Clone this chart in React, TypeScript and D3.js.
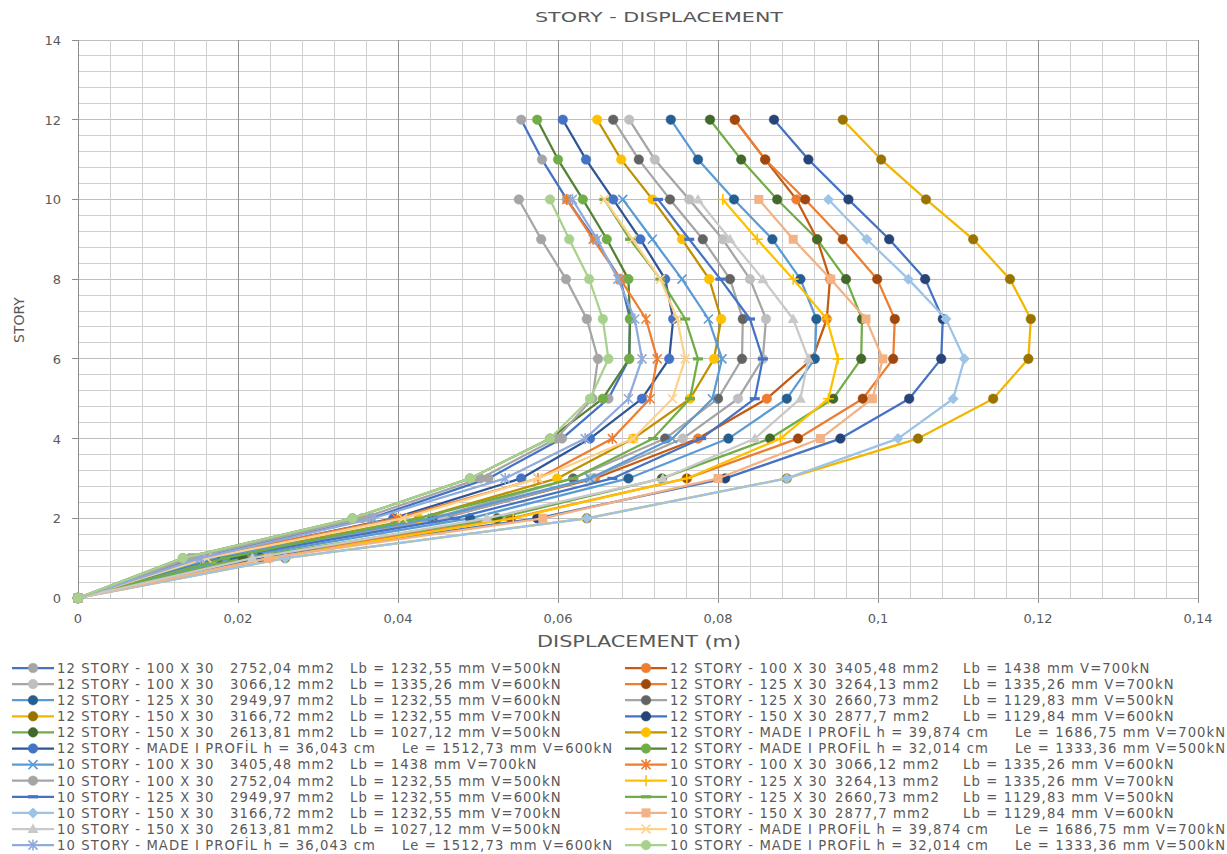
import React from 'react';
import * as d3 from 'd3';

// ---------- DATA ----------
const stories12 = [0, 1, 2, 3, 4, 5, 6, 7, 8, 9, 10, 11, 12];
const stories10 = [0, 1, 2, 3, 4, 5, 6, 7, 8, 9, 10];

const xTicks = [0, 0.02, 0.04, 0.06, 0.08, 0.1, 0.12, 0.14];
const yTicks = [0, 2, 4, 6, 8, 10, 12, 14];

// 12 story series (story 0..12)
const s12_100_2752_500 = [0, 0.0145, 0.0366, 0.0513, 0.0605, 0.0663, 0.0689, 0.0690, 0.0678, 0.0646, 0.0611, 0.0580, 0.0554];
const s12_100_3405_700 = [0, 0.0184, 0.0453, 0.0646, 0.0775, 0.0861, 0.0918, 0.0936, 0.0940, 0.0924, 0.0898, 0.0859, 0.0821];
const s12_100_3066_600 = [0, 0.0180, 0.0456, 0.0641, 0.0756, 0.0825, 0.0856, 0.0860, 0.0840, 0.0806, 0.0764, 0.0721, 0.0689];
const s12_125_3264_700 = [0, 0.0215, 0.0541, 0.0761, 0.0900, 0.0981, 0.1019, 0.1021, 0.0999, 0.0956, 0.0909, 0.0859, 0.0821];
const s12_125_2949_600 = [0, 0.0194, 0.0490, 0.0688, 0.0813, 0.0886, 0.0921, 0.0923, 0.0903, 0.0868, 0.0820, 0.0775, 0.0741];
const s12_125_2660_500 = [0, 0.0175, 0.0443, 0.0619, 0.0734, 0.0800, 0.0830, 0.0831, 0.0815, 0.0781, 0.0740, 0.0701, 0.0669];
const s12_150_3166_700 = [0, 0.0259, 0.0636, 0.0886, 0.1050, 0.1144, 0.1188, 0.1191, 0.1165, 0.1119, 0.1060, 0.1004, 0.0956];
const s12_150_2877_600 = [0, 0.0228, 0.0574, 0.0809, 0.0953, 0.1039, 0.1079, 0.1081, 0.1059, 0.1014, 0.0963, 0.0913, 0.0870];
const s12_150_2613_500 = [0, 0.0206, 0.0524, 0.0730, 0.0865, 0.0944, 0.0979, 0.0980, 0.0960, 0.0924, 0.0874, 0.0829, 0.0790];
const s12_made_39_700 = [0, 0.0169, 0.0426, 0.0599, 0.0694, 0.0765, 0.0795, 0.0804, 0.0789, 0.0755, 0.0718, 0.0679, 0.0649];
const s12_made_36_600 = [0, 0.0156, 0.0394, 0.0554, 0.0640, 0.0705, 0.0739, 0.0744, 0.0734, 0.0703, 0.0669, 0.0635, 0.0606];
const s12_made_32_500 = [0, 0.0131, 0.0343, 0.0490, 0.0590, 0.0656, 0.0689, 0.0690, 0.0688, 0.0661, 0.0631, 0.0600, 0.0574];

// 10 story series (story 0..10)
const s10_100_3405_700 = [0, 0.0169, 0.0443, 0.0640, 0.0743, 0.0793, 0.0805, 0.0788, 0.0755, 0.0718, 0.0681];
const s10_100_3066_600 = [0, 0.0153, 0.0398, 0.0575, 0.0668, 0.0715, 0.0724, 0.0710, 0.0678, 0.0644, 0.0611];
const s10_100_2752_500 = [0, 0.0140, 0.0355, 0.0503, 0.0598, 0.0643, 0.0650, 0.0636, 0.0610, 0.0579, 0.0551];
const s10_125_3264_700 = [0, 0.0240, 0.0544, 0.0761, 0.0878, 0.0938, 0.0950, 0.0936, 0.0894, 0.0849, 0.0806];
const s10_125_2949_600 = [0, 0.0180, 0.0471, 0.0668, 0.0779, 0.0846, 0.0856, 0.0840, 0.0803, 0.0764, 0.0725];
const s10_125_2660_500 = [0, 0.0184, 0.0426, 0.0619, 0.0719, 0.0765, 0.0775, 0.0759, 0.0728, 0.0690, 0.0658];
const s10_150_3166_700 = [0, 0.0259, 0.0636, 0.0886, 0.1025, 0.1094, 0.1108, 0.1085, 0.1038, 0.0986, 0.0938];
const s10_150_2877_600 = [0, 0.0238, 0.0581, 0.0800, 0.0928, 0.0993, 0.1006, 0.0985, 0.0941, 0.0894, 0.0851];
const s10_150_2613_500 = [0, 0.0218, 0.0511, 0.0731, 0.0846, 0.0903, 0.0913, 0.0894, 0.0856, 0.0815, 0.0775];
const s10_made_39_700 = [0, 0.0161, 0.0406, 0.0575, 0.0694, 0.0743, 0.0759, 0.0749, 0.0728, 0.0693, 0.0658];
const s10_made_36_600 = [0, 0.0153, 0.0369, 0.0534, 0.0634, 0.0688, 0.0705, 0.0696, 0.0675, 0.0649, 0.0618];
const s10_made_32_500 = [0, 0.0131, 0.0343, 0.0490, 0.0590, 0.0640, 0.0663, 0.0656, 0.0639, 0.0614, 0.0590];

const seriesLabels = [
  '12 STORY - 100 X 30|2752,04 mm2|Lb = 1232,55 mm V=500kN',
  '12 STORY - 100 X 30|3405,48 mm2|Lb = 1438 mm V=700kN',
  '12 STORY - 100 X 30|3066,12 mm2|Lb = 1335,26 mm V=600kN',
  '12 STORY - 125 X 30|3264,13 mm2|Lb = 1335,26 mm V=700kN',
  '12 STORY - 125 X 30|2949,97 mm2|Lb = 1232,55 mm V=600kN',
  '12 STORY - 125 X 30|2660,73 mm2|Lb = 1129,83 mm V=500kN',
  '12 STORY - 150 X 30|3166,72 mm2|Lb = 1232,55 mm V=700kN',
  '12 STORY - 150 X 30|2877,7 mm2|Lb = 1129,84 mm V=600kN',
  '12 STORY - 150 X 30|2613,81 mm2|Lb = 1027,12 mm V=500kN',
  '12 STORY - MADE I PROFİL h = 39,874 cm|Le = 1686,75 mm V=700kN',
  '12 STORY - MADE I PROFİL h = 36,043 cm|Le = 1512,73 mm V=600kN',
  '12 STORY - MADE I PROFİL h = 32,014 cm|Le = 1333,36 mm V=500kN',
  '10 STORY - 100 X 30|3405,48 mm2|Lb = 1438 mm V=700kN',
  '10 STORY - 100 X 30|3066,12 mm2|Lb = 1335,26 mm V=600kN',
  '10 STORY - 100 X 30|2752,04 mm2|Lb = 1232,55 mm V=500kN',
  '10 STORY - 125 X 30|3264,13 mm2|Lb = 1335,26 mm V=700kN',
  '10 STORY - 125 X 30|2949,97 mm2|Lb = 1232,55 mm V=600kN',
  '10 STORY - 125 X 30|2660,73 mm2|Lb = 1129,83 mm V=500kN',
  '10 STORY - 150 X 30|3166,72 mm2|Lb = 1232,55 mm V=700kN',
  '10 STORY - 150 X 30|2877,7 mm2|Lb = 1129,84 mm V=600kN',
  '10 STORY - 150 X 30|2613,81 mm2|Lb = 1027,12 mm V=500kN',
  '10 STORY - MADE I PROFİL h = 39,874 cm|Le = 1686,75 mm V=700kN',
  '10 STORY - MADE I PROFİL h = 36,043 cm|Le = 1512,73 mm V=600kN',
  '10 STORY - MADE I PROFİL h = 32,014 cm|Le = 1333,36 mm V=500kN',
];

const seriesValues = [
  s12_100_2752_500, s12_100_3405_700, s12_100_3066_600, s12_125_3264_700,
  s12_125_2949_600, s12_125_2660_500, s12_150_3166_700, s12_150_2877_600,
  s12_150_2613_500, s12_made_39_700, s12_made_36_600, s12_made_32_500,
  s10_100_3405_700, s10_100_3066_600, s10_100_2752_500, s10_125_3264_700,
  s10_125_2949_600, s10_125_2660_500, s10_150_3166_700, s10_150_2877_600,
  s10_150_2613_500, s10_made_39_700, s10_made_36_600, s10_made_32_500,
];

// ---------- STYLES ----------
const lineColors = [
  '#4472C4', '#C55A11', '#A5A5A5', '#ED7D31', '#5B9BD5', '#A5A5A5',
  '#F2B600', '#4472C4', '#70AD47', '#BF9000', '#2F5597', '#548235',
  '#5B9BD5', '#ED7D31', '#A5A5A5', '#FFC000', '#4472C4', '#70AD47',
  '#9DC3E6', '#F4B183', '#C9C9C9', '#FFD08A', '#8FAADC', '#A9D18E',
];
const markerColors = [
  '#A5A5A5', '#ED7D31', '#BFBFBF', '#9E480E', '#255E91', '#636363',
  '#997300', '#264478', '#43682B', '#FFC000', '#4472C4', '#70AD47',
  '#5B9BD5', '#ED7D31', '#A5A5A5', '#FFC000', '#4472C4', '#70AD47',
  '#9DC3E6', '#F4B183', '#C9C9C9', '#FFD08A', '#8FAADC', '#A9D18E',
];
const markerTypes = [
  'circle', 'circle', 'circle', 'circle', 'circle', 'circle',
  'circle', 'circle', 'circle', 'circle', 'circle', 'circle',
  'x', 'star', 'circle', 'plus', 'dash', 'dash',
  'diamond', 'square', 'triangle', 'x', 'star', 'circle',
];

const W = 1227;
const H = 854;
const PX0 = 78, PX1 = 1198, PY0 = 598, PY1 = 40;
const FONT = 'DejaVu Sans, Verdana, sans-serif';

function Marker({ type, cx, cy, color }: { type: string; cx: number; cy: number; color: string }) {
  const s = 4.5;
  switch (type) {
    case 'circle':
      return <circle cx={cx} cy={cy} r={4.8} fill={color} stroke={color} strokeWidth={0.5} />;
    case 'x':
      return (
        <path d={`M${cx - s},${cy - s}L${cx + s},${cy + s}M${cx - s},${cy + s}L${cx + s},${cy - s}`}
          stroke={color} strokeWidth={1.6} fill="none" />
      );
    case 'star':
      return (
        <path d={`M${cx - s},${cy - s}L${cx + s},${cy + s}M${cx - s},${cy + s}L${cx + s},${cy - s}M${cx},${cy - s - 1}L${cx},${cy + s + 1}`}
          stroke={color} strokeWidth={1.6} fill="none" />
      );
    case 'plus':
      return (
        <path d={`M${cx - s - 1},${cy}L${cx + s + 1},${cy}M${cx},${cy - s - 1}L${cx},${cy + s + 1}`}
          stroke={color} strokeWidth={1.6} fill="none" />
      );
    case 'dash':
      return <rect x={cx - 5} y={cy - 1.6} width={10} height={3.2} fill={color} />;
    case 'diamond':
      return <path d={`M${cx},${cy - 5.5}L${cx + 5.5},${cy}L${cx},${cy + 5.5}L${cx - 5.5},${cy}Z`} fill={color} />;
    case 'square':
      return <rect x={cx - 4.5} y={cy - 4.5} width={9} height={9} fill={color} />;
    case 'triangle':
      return <path d={`M${cx},${cy - 5.5}L${cx + 5.5},${cy + 4}L${cx - 5.5},${cy + 4}Z`} fill={color} />;
    default:
      return null;
  }
}

export default function App() {
  const x = d3.scaleLinear().domain([0, 0.14]).range([PX0, PX1]);
  const y = d3.scaleLinear().domain([0, 14]).range([PY0, PY1]);
  const line = d3.line<[number, number]>().x((d) => x(d[0])).y((d) => y(d[1]));

  const minorX = d3.range(0, 0.14 + 1e-9, 0.004);
  const minorY = d3.range(0, 14 + 1e-9, 0.4);
  const fmt = (v: number) => (v === 0 ? '0' : String(+v.toFixed(2)).replace('.', ','));

  const series = seriesValues.map((vals, i) => {
    const st = i < 12 ? stories12 : stories10;
    const pts: [number, number][] = vals.map((v, k) => [v, st[k]]);
    return { pts, i };
  });

  const legendRowY = (r: number) => 668 + r * 16.1;

  return (
    <svg width={W} height={H} style={{ position: 'fixed', left: 0, top: 0, background: '#fff' }}
      fontFamily={FONT}>
      <rect x={0} y={0} width={W} height={H} fill="#fff" />
      {/* grid */}
      <g shapeRendering="crispEdges">
        {minorY.map((v, k) => (
          <line key={'hy' + k} x1={PX0} x2={PX1} y1={y(v)} y2={y(v)} stroke="#CFCFCF" strokeWidth={1} />
        ))}
        {yTicks.map((v) => (
          <line key={'hyM' + v} x1={PX0} x2={PX1} y1={y(v)} y2={y(v)} stroke="#BDBDBD" strokeWidth={1} />
        ))}
        {minorX.map((v, k) => (
          <line key={'vx' + k} x1={x(v)} x2={x(v)} y1={PY1} y2={PY0} stroke="#CFCFCF" strokeWidth={1} />
        ))}
        {xTicks.map((v) => (
          <line key={'vxM' + v} x1={x(v)} x2={x(v)} y1={PY1} y2={PY0 + 5} stroke="#8E8E8E" strokeWidth={1} />
        ))}
        {yTicks.map((v) => (
          <line key={'yt' + v} x1={PX0 - 6} x2={PX0} y1={y(v)} y2={y(v)} stroke="#8E8E8E" strokeWidth={1} />
        ))}
        <line x1={PX0} x2={PX0} y1={PY1} y2={PY0} stroke="#8E8E8E" strokeWidth={1} />
        <line x1={PX0} x2={PX1} y1={PY0} y2={PY0} stroke="#BDBDBD" strokeWidth={1} />
      </g>

      {/* tick labels */}
      {yTicks.map((v) => (
        <text key={'yl' + v} x={61} y={y(v) + 5} textAnchor="end" fontSize={13} fill="#595959">{v}</text>
      ))}
      {xTicks.map((v) => (
        <text key={'xl' + v} x={x(v)} y={623} textAnchor="middle" fontSize={13} fill="#595959">{fmt(v)}</text>
      ))}

      {/* titles */}
      <text x={659} y={22} textAnchor="middle" fontSize={14} fill="#595959" textLength={248} lengthAdjust="spacingAndGlyphs">STORY - DISPLACEMENT</text>
      <text x={639} y={647} textAnchor="middle" fontSize={15} fill="#595959" textLength={204} lengthAdjust="spacingAndGlyphs">DISPLACEMENT (m)</text>
      <text transform="translate(24,320) rotate(-90)" textAnchor="middle" fontSize={14} fill="#595959">STORY</text>

      {/* series */}
      {series.map(({ pts, i }) => (
        <g key={'s' + i}>
          <path d={line(pts) || ''} fill="none" stroke={lineColors[i]} strokeWidth={2.25} strokeLinejoin="round" />
          {pts.map((p, k) => (
            <Marker key={k} type={markerTypes[i]} cx={x(p[0])} cy={y(p[1])} color={markerColors[i]} />
          ))}
        </g>
      ))}

      {/* legend */}
      {seriesLabels.map((lab, i) => {
        const col = i % 2;
        const row = Math.floor(i / 2);
        const x0 = col === 0 ? 57 : 670;
        const cy = legendRowY(row);
        const parts = lab.split('|');
        const isMade = parts.length === 2;
        return (
          <g key={'lg' + i}>
            <line x1={x0 - 45} x2={x0 - 3} y1={cy} y2={cy} stroke={lineColors[i]} strokeWidth={2.25} />
            <Marker type={markerTypes[i]} cx={x0 - 24} cy={cy} color={markerColors[i]} />
            <g fontSize={13.2} fill="#595959" letterSpacing={1.1}>
              <text x={x0} y={cy + 4.8}>{parts[0]}</text>
              {isMade ? (
                <text x={x0 + 345} y={cy + 4.8}>{parts[1]}</text>
              ) : (
                <>
                  <text x={x0 + (col === 0 ? 173 : 165)} y={cy + 4.8}>{parts[1]}</text>
                  <text x={x0 + 293} y={cy + 4.8}>{parts[2]}</text>
                </>
              )}
            </g>
          </g>
        );
      })}
    </svg>
  );
}
